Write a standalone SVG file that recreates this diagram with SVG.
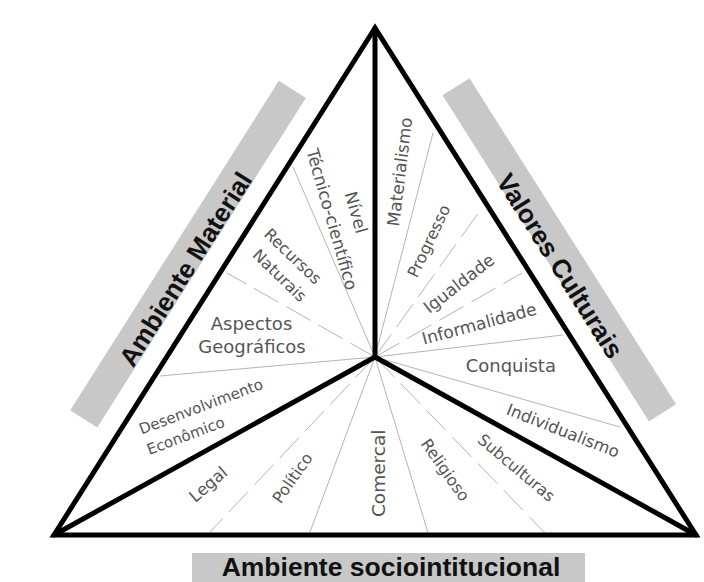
<svg xmlns="http://www.w3.org/2000/svg" width="704" height="582" viewBox="0 0 704 582">
<style>
.bar{fill:#c8c8c8}
.title{font-family:"Liberation Sans",Arial,sans-serif;font-weight:bold;font-size:26px;fill:#111;text-anchor:middle}
.lbl{font-family:"DejaVu Sans",sans-serif;font-size:17px;fill:#555;text-anchor:middle}
.thick{stroke:#000;stroke-width:5;fill:none;stroke-linejoin:miter;stroke-miterlimit:20}
.spoke{stroke:#000;stroke-width:5;fill:none;stroke-linecap:round}
.div{stroke:#b4b4b4;stroke-width:1;fill:none}
.dash{stroke-dasharray:28 9}
</style>
<rect width="704" height="582" fill="#fff"/>
<g id="bar-ambiente-material" transform="translate(54,535) rotate(-57.66)">
  <rect class="bar" x="114" y="-53" width="390" height="32"/>
  <text class="title" x="295" y="-22">Ambiente Material</text>
</g>
<g id="bar-valores-culturais" transform="translate(375,28) rotate(57.66)">
  <rect class="bar" x="93" y="-53" width="386" height="32"/>
  <text class="title" x="300" y="-20">Valores Culturais</text>
</g>
<g id="bar-ambiente-sociointitucional">
  <rect class="bar" x="192" y="553" width="393" height="35"/>
  <text class="title" x="391" y="576" style="font-size:26.5px">Ambiente sociointitucional</text>
</g>
<g id="connectors">
  <line class="div" x1="375" y1="357" x2="293" y2="167"/>
  <line class="div dash" x1="375" y1="357" x2="227" y2="273"/>
  <line class="div" x1="375" y1="357" x2="160" y2="376"/>
  <line class="div" x1="375" y1="357" x2="433" y2="133"/>
  <line class="div dash" x1="375" y1="357" x2="482" y2="208"/>
  <line class="div dash" x1="375" y1="357" x2="522" y2="273"/>
  <line class="div" x1="375" y1="357" x2="563" y2="335"/>
  <line class="div" x1="375" y1="357" x2="620" y2="427"/>
  <line class="div dash" x1="375" y1="357" x2="210" y2="532"/>
  <line class="div" x1="375" y1="357" x2="310" y2="532"/>
  <line class="div" x1="375" y1="357" x2="428" y2="533"/>
  <line class="div dash" x1="375" y1="357" x2="545" y2="533"/>
  <polygon class="thick" points="375,28 54,535 696,535"/>
  <path class="spoke" d="M375,357 L375,28 M375,357 L54,535 M375,357 L696,535"/>
</g>
<g id="label-nivel" transform="translate(326.3,221) rotate(74)">
  <text class="lbl" x="0" y="-25">Nível</text>
  <text class="lbl" x="0" y="0">Técnico-científico</text>
</g>
<g id="label-recursos">
  <text class="lbl" transform="translate(289,260.3) rotate(44)" style="font-size:16px">Recursos</text>
  <text class="lbl" transform="translate(275.7,279.5) rotate(44)" style="font-size:16px">Naturais</text>
</g>
<g id="label-aspectos">
  <text class="lbl" x="251.5" y="330" style="font-size:18px">Aspectos</text>
  <text class="lbl" x="252" y="353" style="font-size:18px">Geográficos</text>
</g>
<g id="label-desenvolvimento" transform="translate(141.5,434.5) rotate(-20.7)">
  <text class="lbl" x="0" y="0" style="font-size:15px;text-anchor:start">Desenvolvimento</text>
  <text class="lbl" x="0" y="22" style="font-size:15px;text-anchor:start">Econômico</text>
</g>
<g id="label-materialismo"><text class="lbl" transform="translate(405.7,172.5) rotate(-83)">Materialismo</text></g>
<g id="label-progresso"><text class="lbl" transform="translate(433.8,243.5) rotate(-64.5)" style="font-size:16px">Progresso</text></g>
<g id="label-igualdade"><text class="lbl" transform="translate(462.5,288.2) rotate(-38)">Igualdade</text></g>
<g id="label-informalidade"><text class="lbl" transform="translate(480.7,329.6) rotate(-15)">Informalidade</text></g>
<g id="label-conquista"><text class="lbl" x="510.8" y="371.5" style="font-size:18px">Conquista</text></g>
<g id="label-individualismo"><text class="lbl" transform="translate(560.9,436) rotate(21.5)" style="font-size:16.5px">Individualismo</text></g>
<g id="label-subculturas"><text class="lbl" transform="translate(512.8,472.1) rotate(40)" style="font-size:16px">Subculturas</text></g>
<g id="label-religioso"><text class="lbl" transform="translate(440.8,473.2) rotate(55)" style="font-size:16px">Religioso</text></g>
<g id="label-comercal"><text class="lbl" transform="translate(384.5,473.3) rotate(-90)" style="font-size:18.5px">Comercal</text></g>
<g id="label-politico"><text class="lbl" transform="translate(297,481.2) rotate(-55)" style="font-size:16px">Político</text></g>
<g id="label-legal"><text class="lbl" transform="translate(211.9,488.7) rotate(-41)" style="font-size:16.5px">Legal</text></g>
</svg>
